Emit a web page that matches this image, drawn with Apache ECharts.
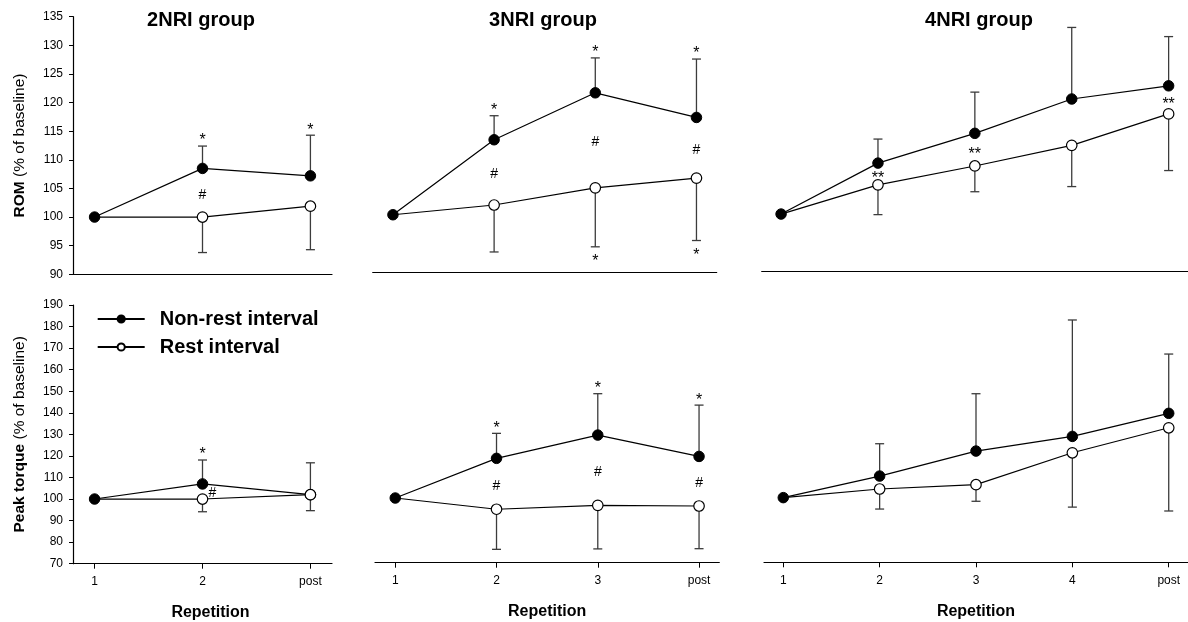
<!DOCTYPE html>
<html>
<head>
<meta charset="utf-8">
<script src="https://cdn.jsdelivr.net/npm/echarts@6/dist/echarts.min.js"></script>
<style>
  html, body { margin: 0; padding: 0; background: #fff; }
  #chart { width: 1188px; height: 622px; }
</style>
</head>
<body>
<div id="chart"></div>
<script>
const FONT = "'Liberation Sans', Arial, Helvetica, sans-serif";

// Repetition labels for each group
const cats2 = ['1', '2', 'post'];
const cats3 = ['1', '2', '3', 'post'];
const cats4 = ['1', '2', '3', '4', 'post'];

// ROM (% of baseline): means and SD
const rom2NonRest   = [100, 108.5, 107.2];
const rom2NonRestSD = [null, 3.9, 7.1];
const rom2Rest      = [100, 100, 101.9];
const rom2RestSD    = [null, 6.2, 7.6];

const rom3NonRest   = [100, 113.1, 121.3, 117.0];
const rom3NonRestSD = [null, 4.2, 6.1, 10.2];
const rom3Rest      = [100, 101.7, 104.7, 106.4];
const rom3RestSD    = [null, 8.2, 10.3, 10.9];

const rom4NonRest   = [100, 108.9, 114.1, 120.1, 122.4];
const rom4NonRestSD = [null, 4.2, 7.2, 12.5, 8.6];
const rom4Rest      = [100, 105.1, 108.4, 112.0, 117.5];
const rom4RestSD    = [null, 5.2, 4.5, 7.2, 9.9];

// Peak torque (% of baseline): means and SD
const pt2NonRest   = [100, 107.0, 102.0];
const pt2NonRestSD = [null, 11.1, 14.8];
const pt2Rest      = [100, 100, 102.0];
const pt2RestSD    = [null, 5.9, 7.4];

const pt3NonRest   = [100, 118.4, 129.2, 119.3];
const pt3NonRestSD = [null, 11.6, 19.2, 23.8];
const pt3Rest      = [100, 94.8, 96.6, 96.3];
const pt3RestSD    = [null, 18.6, 20.2, 19.8];

const pt4NonRest   = [100, 110.0, 121.6, 128.4, 139.1];
const pt4NonRestSD = [null, 15.0, 26.6, 54.0, 27.5];
const pt4Rest      = [100, 104.0, 106.0, 120.8, 132.4];
const pt4RestSD    = [null, 9.3, 7.7, 25.2, 38.6];

// Significance marks: above the non-rest bar, between the two means, below the rest bar
const rom2SigTop = ['', '*', '*'];
const rom2SigMid = ['', '#', ''];
const rom2SigBot = ['', '', ''];
const rom3SigTop = ['', '*', '*', '*'];
const rom3SigMid = ['', '#', '#', '#'];
const rom3SigBot = ['', '', '*', '*'];
const rom4SigTop = ['', '', '', '', ''];
const rom4SigMid = ['', '**', '**', '', '**'];
const rom4SigBot = ['', '', '', '', ''];
const pt2SigTop = ['', '*', ''];
const pt2SigMid = ['', '#', ''];
const pt2SigBot = ['', '', ''];
const pt3SigTop = ['', '*', '*', '*'];
const pt3SigMid = ['', '#', '#', '#'];
const pt3SigBot = ['', '', '', ''];
const pt4SigTop = ['', '', '', '', ''];
const pt4SigMid = ['', '', '', '', ''];
const pt4SigBot = ['', '', '', '', ''];

// Axis ranges and tick steps
const romTicks = { min: 90, max: 135, interval: 5 };
const ptTicks  = { min: 70, max: 190, interval: 10 };

const panels = [
  { cats: cats2, nr: rom2NonRest, nrSD: rom2NonRestSD, r: rom2Rest, rSD: rom2RestSD,
    top: rom2SigTop, mid: rom2SigMid, bot: rom2SigBot, y: romTicks,
    grid: { left: 73, top: 16.7, width: 259, height: 257.6 }, showY: true, bottomRow: false,
    yName: '{b|ROM} (% of baseline)' },
  { cats: cats3, nr: rom3NonRest, nrSD: rom3NonRestSD, r: rom3Rest, rSD: rom3RestSD,
    top: rom3SigTop, mid: rom3SigMid, bot: rom3SigBot, y: romTicks,
    grid: { left: 372.7, top: 14.4, width: 344, height: 257.6 }, showY: false, bottomRow: false },
  { cats: cats4, nr: rom4NonRest, nrSD: rom4NonRestSD, r: rom4Rest, rSD: rom4RestSD,
    top: rom4SigTop, mid: rom4SigMid, bot: rom4SigBot, y: romTicks,
    grid: { left: 761.7, top: 13.7, width: 430.8, height: 257.6 }, showY: false, bottomRow: false },
  { cats: cats2, nr: pt2NonRest, nrSD: pt2NonRestSD, r: pt2Rest, rSD: pt2RestSD,
    top: pt2SigTop, mid: pt2SigMid, bot: pt2SigBot, y: ptTicks,
    grid: { left: 73, top: 305, width: 259, height: 258.7 }, showY: true, bottomRow: true,
    yName: '{b|Peak torque} (% of baseline)', xNameShift: 16 },
  { cats: cats3, nr: pt3NonRest, nrSD: pt3NonRestSD, r: pt3Rest, rSD: pt3RestSD,
    top: pt3SigTop, mid: pt3SigMid, bot: pt3SigBot, y: ptTicks,
    grid: { left: 375, top: 304, width: 344.3, height: 258.7 }, showY: false, bottomRow: true },
  { cats: cats4, nr: pt4NonRest, nrSD: pt4NonRestSD, r: pt4Rest, rSD: pt4RestSD,
    top: pt4SigTop, mid: pt4SigMid, bot: pt4SigBot, y: ptTicks,
    grid: { left: 764, top: 303.6, width: 430.5, height: 258.7 }, showY: false, bottomRow: true }
];

const groupTitles = [
  { text: '2NRI group', x: 201 },
  { text: '3NRI group', x: 543 },
  { text: '4NRI group', x: 979 }
];

const ERR_COLOR = '#3c3c3c';
const CAP = 4.5;

function errorBars(idx, means, sds, dir) {
  return {
    type: 'custom', xAxisIndex: idx, yAxisIndex: idx, z: 1, silent: true, animation: false,
    data: means.map((m, i) => [i, m, sds[i] == null ? 0 : sds[i]]),
    renderItem(params, api) {
      const sd = api.value(2);
      if (!sd) return null;
      const x = api.value(0), m = api.value(1);
      const p0 = api.coord([x, m]);
      const p1 = api.coord([x, m + dir * sd]);
      const style = { stroke: ERR_COLOR, lineWidth: 1.3 };
      return { type: 'group', children: [
        { type: 'line', shape: { x1: p0[0], y1: p0[1], x2: p1[0], y2: p1[1] }, style },
        { type: 'line', shape: { x1: p1[0] - CAP, y1: p1[1], x2: p1[0] + CAP, y2: p1[1] }, style }
      ] };
    }
  };
}

function sigMarks(idx, p) {
  return {
    type: 'custom', xAxisIndex: idx, yAxisIndex: idx, z: 6, silent: true, animation: false,
    data: p.cats.map((c, i) => [i, p.nr[i], p.nrSD[i] || 0, p.r[i], p.rSD[i] || 0]),
    renderItem(params, api) {
      const i = params.dataIndex;
      const x = api.value(0);
      const nrM = api.value(1), nrS = api.value(2), rM = api.value(3), rS = api.value(4);
      const kids = [];
      const put = (px, py, s, size) => kids.push({
        type: 'text', x: px, y: py,
        style: { text: s, font: size + 'px ' + FONT, align: 'center', verticalAlign: 'middle', fill: '#000' }
      });
      if (p.top[i]) {
        const c = api.coord([x, nrM + nrS]);
        put(c[0], c[1] - 5, p.top[i], 16);
      }
      if (p.bot[i]) {
        const c = api.coord([x, rM - rS]);
        put(c[0], c[1] + 15, p.bot[i], 16);
      }
      if (p.mid[i]) {
        const a = api.coord([x, nrM]), b = api.coord([x, rM]);
        const gap = Math.abs(b[1] - a[1]);
        const my = (a[1] + b[1]) / 2 + 2;
        const star = p.mid[i].indexOf('*') >= 0;
        if (gap < 18) put(a[0] + 10, my, p.mid[i], 14);
        else put(a[0], my + (star ? 3 : 0), p.mid[i], star ? 16 : 14);
      }
      return { type: 'group', children: kids };
    }
  };
}

const grids = [], xAxes = [], yAxes = [], series = [];

panels.forEach((p, idx) => {
  grids.push(Object.assign({ containLabel: false }, p.grid));
  const ticks = p.cats.map((c, i) => i);
  xAxes.push({
    type: 'value', gridIndex: idx, min: -0.2, max: p.cats.length - 1 + 0.2,
    axisLine: { show: true, onZero: false, lineStyle: { color: '#000', width: 1.2 } },
    axisTick: { show: p.bottomRow, customValues: ticks, length: 5, lineStyle: { color: '#000' } },
    axisLabel: { show: p.bottomRow, customValues: ticks, formatter: v => p.cats[Math.round(v)],
      fontFamily: FONT, fontSize: 12, color: '#000', margin: 12 },
    splitLine: { show: false },
    name: p.bottomRow ? 'Repetition' : '', nameLocation: 'middle', nameGap: 41,
    nameTextStyle: { fontFamily: FONT, fontSize: 16, fontWeight: 'bold', color: '#000',
      padding: [0, 0, 0, p.xNameShift || 0] }
  });
  yAxes.push({
    type: 'value', gridIndex: idx, min: p.y.min, max: p.y.max, interval: p.y.interval,
    show: p.showY,
    axisLine: { show: true, onZero: false, lineStyle: { color: '#000', width: 1.2 } },
    axisTick: { show: true, length: 4, lineStyle: { color: '#000' } },
    axisLabel: { fontFamily: FONT, fontSize: 12, color: '#000', margin: 10 },
    splitLine: { show: false },
    name: p.yName || '', nameLocation: 'middle', nameGap: 45, nameRotate: 90,
    nameTextStyle: { fontFamily: FONT, fontSize: 15.5, color: '#000',
      rich: { b: { fontFamily: FONT, fontSize: 15.5, fontWeight: 'bold', color: '#000' } } }
  });

  series.push(errorBars(idx, p.nr, p.nrSD, 1));
  series.push(errorBars(idx, p.r, p.rSD, -1));
  series.push({
    type: 'line', name: 'Non-rest interval', xAxisIndex: idx, yAxisIndex: idx,
    data: p.nr.map((v, i) => [i, v]),
    symbol: 'circle', symbolSize: 10.5, z: 3, animation: false, silent: true,
    itemStyle: { color: '#000', borderColor: '#000', borderWidth: 1 },
    lineStyle: { color: '#000', width: 1.2 },
    emphasis: { disabled: true }
  });
  series.push({
    type: 'line', name: 'Rest interval', xAxisIndex: idx, yAxisIndex: idx,
    data: p.r.map((v, i) => i === 0 ? { value: [i, v], symbol: 'none' } : [i, v]),
    symbol: 'circle', symbolSize: 10.5, z: 4, animation: false, silent: true,
    itemStyle: { color: '#fff', borderColor: '#000', borderWidth: 1.2 },
    lineStyle: { color: '#000', width: 1.2 },
    emphasis: { disabled: true }
  });
  series.push(sigMarks(idx, p));
});

const chart = echarts.init(document.getElementById('chart'), null, { renderer: 'canvas' });
chart.setOption({
  backgroundColor: '#fff',
  animation: false,
  textStyle: { fontFamily: FONT },
  grid: grids,
  xAxis: xAxes,
  yAxis: yAxes,
  legend: {
    data: ['Non-rest interval', 'Rest interval'],
    orient: 'vertical', left: 91.7, top: 303.5,
    itemWidth: 47, itemHeight: 9, itemGap: 7, selectedMode: false,
    textStyle: { fontFamily: FONT, fontSize: 20, fontWeight: 'bold', color: '#000',
      lineHeight: 21, padding: [0, 0, 0, 10] }
  },
  graphic: groupTitles.map(t => ({
    type: 'text', x: t.x, y: 20, silent: true,
    style: { text: t.text, font: 'bold 20px ' + FONT, align: 'center', verticalAlign: 'middle', fill: '#000' }
  })),
  series
});
</script>
</body>
</html>
